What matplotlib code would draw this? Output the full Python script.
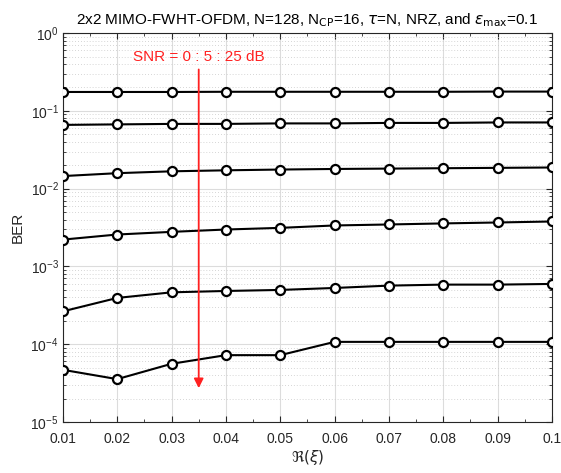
import numpy as np
import matplotlib
matplotlib.use('Agg')
import matplotlib.pyplot as plt
from matplotlib.ticker import LogLocator, MultipleLocator, NullFormatter

plt.rcParams['font.family'] = ['Liberation Sans', 'DejaVu Sans']
plt.rcParams['mathtext.fontset'] = 'dejavusans'

# real part of the CFO xi
xi_re = [0.01, 0.02, 0.03, 0.04, 0.05, 0.06, 0.07, 0.08, 0.09, 0.10]

# BER for SNR = 0, 5, 10, 15, 20, 25 dB
ber_0db = [0.175, 0.175, 0.175, 0.176, 0.176, 0.176, 0.176, 0.176, 0.177, 0.177]
ber_5db = [0.066, 0.067, 0.068, 0.068, 0.069, 0.069, 0.070, 0.070, 0.071, 0.071]
ber_10db = [0.0145, 0.0158, 0.0167, 0.0172, 0.0176, 0.0179, 0.0181, 0.0183, 0.0185, 0.0187]
ber_15db = [0.00221, 0.00257, 0.00278, 0.00298, 0.00313, 0.00336, 0.00346, 0.00357, 0.00367, 0.00378]
ber_20db = [2.64e-4, 3.93e-4, 4.64e-4, 4.83e-4, 4.98e-4, 5.28e-4, 5.66e-4, 5.83e-4, 5.83e-4, 5.95e-4]
ber_25db = [4.68e-5, 3.55e-5, 5.59e-5, 7.22e-5, 7.22e-5, 1.07e-4, 1.07e-4, 1.07e-4, 1.07e-4, 1.07e-4]

all_ber = [ber_0db, ber_5db, ber_10db, ber_15db, ber_20db, ber_25db]

fig = plt.figure(figsize=(5.61, 4.73), dpi=100)
ax = fig.add_axes([0.112, 0.108, 0.872, 0.822])

for ber in all_ber:
    ax.semilogy(xi_re, ber, '-o', color='black', lw=1.5, ms=6.5,
                mfc='white', mec='black', mew=1.6, zorder=3)

ax.set_xlim(0.01, 0.1)
ax.set_ylim(1e-5, 1)
ax.xaxis.set_major_locator(MultipleLocator(0.01))
ax.xaxis.set_minor_locator(MultipleLocator(0.005))
ax.set_xticklabels([f'{v:g}' for v in ax.get_xticks()])
ax.yaxis.set_major_locator(LogLocator(base=10, numticks=10))
ax.yaxis.set_minor_locator(LogLocator(base=10, subs=np.arange(2, 10), numticks=20))
ax.yaxis.set_minor_formatter(NullFormatter())

ax.grid(which='major', color='#dcdcdc', lw=0.8, ls='-')
ax.grid(which='minor', axis='y', color='#c8c8c8', lw=0.6, ls=(0, (1, 2.5)))
ax.tick_params(which='both', direction='in', top=True, right=True,
               colors='#262626', labelsize=10)
ax.tick_params(which='major', length=4)
ax.tick_params(which='minor', length=2)
ax.tick_params(axis='x', which='major', pad=7)
ax.tick_params(axis='y', which='major', pad=3)
for sp in ax.spines.values():
    sp.set_color('#262626')
    sp.set_linewidth(0.8)

ax.set_xlabel(r'$\Re(\xi)$', fontsize=11, color='#262626', labelpad=2)
ax.set_ylabel('BER', fontsize=11, color='#262626', labelpad=4)
ax.set_title(r'2x2 MIMO-FWHT-OFDM, N=128, N$_{\mathrm{CP}}$=16, $\tau$=N, NRZ, and $\epsilon_{\mathrm{max}}$=0.1',
             fontsize=11, pad=6)

ax.annotate('', xy=(0.035, 2.5e-5), xytext=(0.035, 0.37),
            arrowprops=dict(arrowstyle='-|>', color='#ff2020', lw=1.3,
                            mutation_scale=14), zorder=4)
ax.text(0.035, 0.49, 'SNR = 0 : 5 : 25 dB', color='#ff2020', fontsize=11,
        ha='center', va='center', zorder=4)

fig.savefig('out.png', dpi=100)
